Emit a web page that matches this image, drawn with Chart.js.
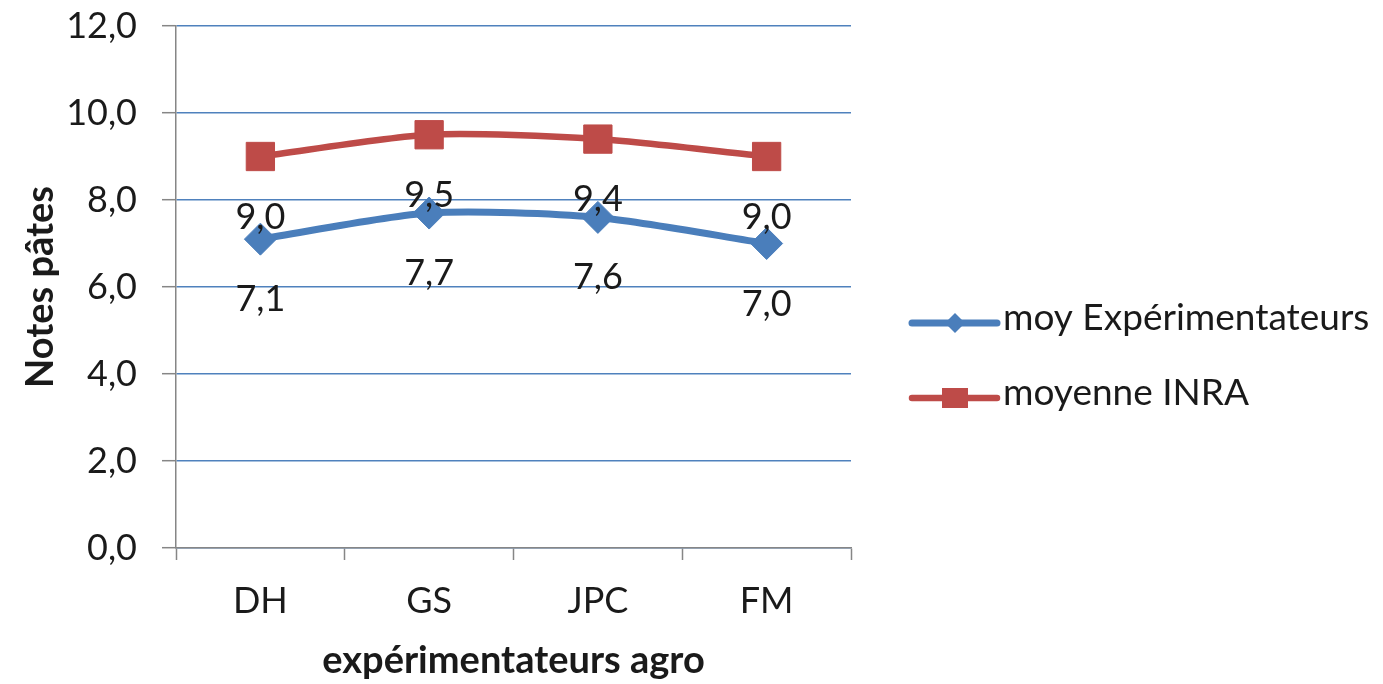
<!DOCTYPE html>
<html>
<head>
<meta charset="utf-8">
<script src="https://cdn.jsdelivr.net/npm/chart.js@4/dist/chart.umd.min.js"></script>
<style>
  html, body { margin: 0; padding: 0; background: #ffffff; }
  canvas { display: block; }
</style>
</head>
<body>
<canvas id="chart" width="1383" height="684"></canvas>
<script>
// Categories and series
const categories = ['DH', 'GS', 'JPC', 'FM'];
const moyExperimentateurs = [7.1, 7.7, 7.6, 7.0];
const moyenneINRA = [9.0, 9.5, 9.4, 9.0];
const seriesNames = ['moy Expérimentateurs', 'moyenne INRA'];
const yMin = 0;
const yMax = 12;
const yStep = 2;
const xTitle = 'expérimentateurs agro';
const yTitle = 'Notes pâtes';

const BLUE = '#4a7ebb';
const RED = '#be4b48';
const GRID = '#4f81bd';
const AXIS = '#868686';
const TEXT = '#1a1a1a';
const FONT = 'Lato, "Open Sans", sans-serif';
const FS = 36;
const TITLE_FS = 38;

const fmt = v => v.toFixed(1).replace('.', ',');

// Value labels under each marker
const valueLabels = {
  id: 'valueLabels',
  afterDatasetsDraw(chart) {
    const ctx = chart.ctx;
    ctx.save();
    ctx.font = `${FS}px ${FONT}`;
    ctx.fillStyle = TEXT;
    ctx.textAlign = 'center';
    ctx.textBaseline = 'alphabetic';
    chart.data.datasets.forEach((ds, i) => {
      const meta = chart.getDatasetMeta(i);
      meta.data.forEach((pt, j) => {
        ctx.fillText(fmt(ds.data[j]), pt.x, pt.y + 72);
      });
    });
    ctx.restore();
  }
};

// Legend on the right: line sample with marker, then series name
const sideLegend = {
  id: 'sideLegend',
  afterDraw(chart) {
    const ctx = chart.ctx;
    const x0 = 912, x1 = 997, cx = 955, tx = 1003;
    const rows = [323, 398];
    ctx.save();
    chart.data.datasets.forEach((ds, i) => {
      const y = rows[i];
      ctx.strokeStyle = ds.borderColor;
      ctx.lineWidth = ds.borderWidth;
      ctx.lineCap = 'round';
      ctx.beginPath();
      ctx.moveTo(x0, y);
      ctx.lineTo(x1, y);
      ctx.stroke();
      ctx.fillStyle = ds.pointBackgroundColor;
      ctx.beginPath();
      if (ds.pointStyle === 'rectRot') {
        ctx.moveTo(cx - 10, y);
        ctx.lineTo(cx, y - 10);
        ctx.lineTo(cx + 10, y);
        ctx.lineTo(cx, y + 10);
        ctx.closePath();
      } else {
        ctx.rect(cx - 13, y - 10, 26, 20);
      }
      ctx.fill();
      ctx.fillStyle = TEXT;
      ctx.font = `37px ${FONT}`;
      ctx.textAlign = 'left';
      ctx.textBaseline = 'middle';
      ctx.fillText(ds.label, tx, y - 5);
    });
    ctx.restore();
  }
};

new Chart(document.getElementById('chart'), {
  type: 'line',
  data: {
    labels: categories,
    datasets: [
      {
        label: seriesNames[0],
        data: moyExperimentateurs,
        borderColor: BLUE,
        backgroundColor: BLUE,
        borderWidth: 7,
        tension: 0.25,
        pointStyle: 'rectRot',
        pointRadius: 16,
        pointBorderWidth: 1,
        pointBackgroundColor: BLUE,
        pointBorderColor: BLUE
      },
      {
        label: seriesNames[1],
        data: moyenneINRA,
        borderColor: RED,
        backgroundColor: RED,
        borderWidth: 6.5,
        tension: 0.25,
        pointStyle: 'rect',
        pointRadius: 20,
        pointBorderWidth: 1,
        pointBackgroundColor: RED,
        pointBorderColor: RED
      }
    ]
  },
  options: {
    responsive: false,
    animation: false,
    devicePixelRatio: 1,
    layout: { padding: { top: 26, right: 532, bottom: 0, left: 0 } },
    plugins: {
      legend: { display: false },
      tooltip: { enabled: false }
    },
    scales: {
      x: {
        offset: true,
        grid: {
          offset: true,
          drawOnChartArea: false,
          drawTicks: true,
          tickLength: 12,
          tickColor: AXIS,
          tickWidth: 1.5,
          color: AXIS
        },
        border: { color: AXIS, width: 1.5 },
        ticks: {
          color: TEXT,
          font: { family: FONT, size: FS },
          padding: 20,
          maxRotation: 0
        },
        title: {
          display: true,
          text: xTitle,
          color: TEXT,
          font: { family: FONT, size: TITLE_FS, weight: 'bold' },
          padding: { top: 0, bottom: 0 }
        },
        afterFit(s) { s.height = 136; s.paddingLeft = 0; s.paddingRight = 0; }
      },
      y: {
        min: yMin,
        max: yMax,
        ticks: {
          stepSize: yStep,
          color: TEXT,
          font: { family: FONT, size: FS },
          padding: 25,
          callback: v => fmt(v)
        },
        grid: {
          color: GRID,
          lineWidth: 1.4,
          tickLength: 14,
          tickColor: AXIS,
          tickWidth: 1.5
        },
        border: { color: AXIS, width: 1.5 },
        title: {
          display: true,
          text: yTitle,
          color: TEXT,
          font: { family: FONT, size: TITLE_FS, weight: 'bold' },
          padding: { top: 18, bottom: 0 }
        },
        afterFit(s) { s.width = 176; s.paddingTop = 0; s.paddingBottom = 0; }
      }
    }
  },
  plugins: [valueLabels, sideLegend]
});
</script>
</body>
</html>
